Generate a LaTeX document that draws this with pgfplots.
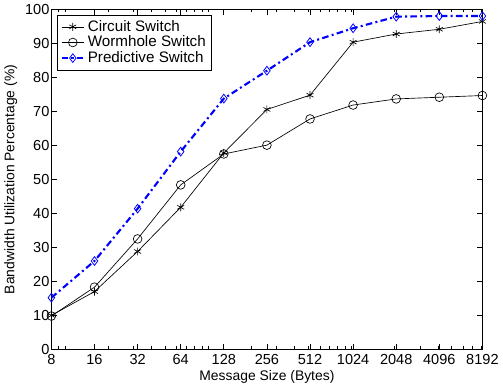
\documentclass[border=0pt]{standalone}
\usepackage{fontspec}
\setmainfont{Liberation Sans}
\usepackage{pgfplots}
\pgfplotsset{compat=1.18}
\begin{document}
\begin{tikzpicture}
\begin{axis}[
  scale only axis,
  width=326pt, height=257pt,
  xmode=log,
  xmin=8, xmax=8192, ymin=0, ymax=100,
  xtick={8,16,32,64,128,256,512,1024,2048,4096,8192},
  xticklabels={8,16,32,64,128,256,512,1024,2048,4096,8192},
  minor xtick={9,10,20,30,40,50,60,70,80,90,100,200,300,400,500,600,700,800,900,1000,2000,3000,4000,5000,6000,7000,8000},
  ytick={0,10,...,100},
  tick align=inside,
  major tick length=4pt, minor tick length=2.2pt,
  tick style={black, line width=0.5pt},
  axis line style={line width=0.8pt},
  /pgf/number format/assume math mode=true,
  tick label style={font=\fontsize{11}{12}\selectfont},
  label style={font=\fontsize{10.5}{12}\selectfont},
  xticklabel style={yshift=-0.5pt},
  yticklabel style={xshift=2pt},
  xlabel={Message Size (Bytes)},
  ylabel={Bandwidth Utilization Percentage (\%)},
  xlabel style={yshift=3pt},
  ylabel style={yshift=-1pt},
  legend style={at={(0.014,0.985)}, anchor=north west, draw=black, line width=0.6pt,
    font=\fontsize{11.5}{13}\selectfont, inner sep=2pt, row sep=-2pt},
  legend cell align=left,
]
\addplot[black, line width=0.5pt, mark=asterisk, mark size=3pt] coordinates {
(8,10.0) (16,17.0) (32,28.8) (64,41.8) (128,57.8) (256,70.6) (512,74.8) (1024,90.4) (2048,92.8) (4096,94.2) (8192,96.5)};
\addlegendentry{Circuit Switch}
\addplot[black, line width=0.5pt, mark=o, mark size=3.3pt] coordinates {
(8,9.8) (16,18.3) (32,32.5) (64,48.4) (128,57.5) (256,60.1) (512,67.8) (1024,71.9) (2048,73.7) (4096,74.2) (8192,74.7)};
\addlegendentry{Wormhole Switch}
\addplot[blue, line width=1.6pt, dash pattern=on 5pt off 2.5pt on 1.5pt off 2.5pt, mark=diamond, mark size=3.3pt, mark options={solid, line width=0.6pt}] coordinates {
(8,15.2) (16,26.0) (32,41.4) (64,58.2) (128,73.8) (256,82.0) (512,90.4) (1024,94.5) (2048,97.9) (4096,98.1) (8192,98.1)};
\addlegendentry{Predictive Switch}
\end{axis}
\end{tikzpicture}
\end{document}
